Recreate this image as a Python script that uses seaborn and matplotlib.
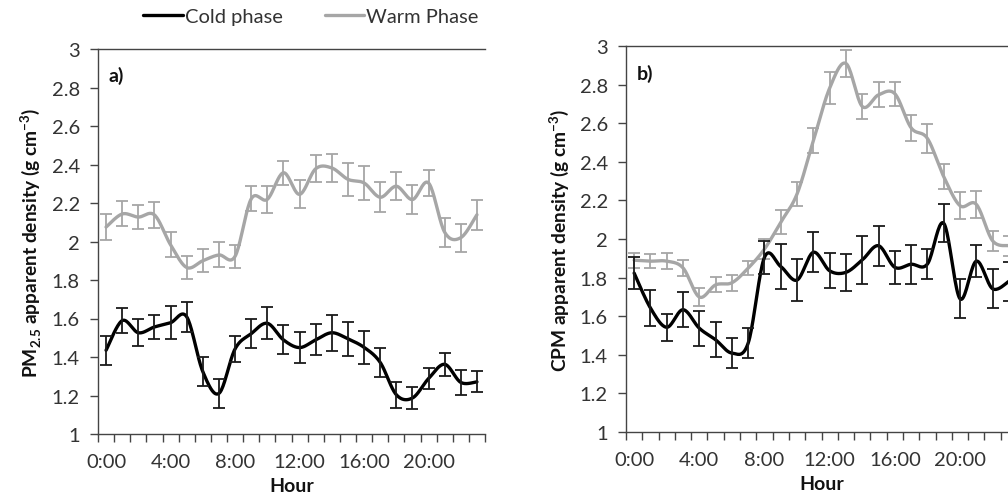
import numpy as np
import pandas as pd
import seaborn as sns
import matplotlib.pyplot as plt
from matplotlib.lines import Line2D

# Hourly values (hour 0..23)
hours = list(range(24))
hour_labels = ['0:00', '4:00', '8:00', '12:00', '16:00', '20:00']

# panel a) PM2.5 apparent density
pm_cold = [1.435, 1.589, 1.526, 1.556, 1.578, 1.609, 1.324, 1.211, 1.442, 1.521, 1.575, 1.489,
           1.449, 1.489, 1.526, 1.494, 1.450, 1.372, 1.204, 1.187, 1.288, 1.362, 1.268, 1.271]
pm_cold_err = [0.076, 0.064, 0.071, 0.062, 0.085, 0.078, 0.075, 0.075, 0.069, 0.076, 0.084, 0.075,
               0.081, 0.081, 0.093, 0.087, 0.087, 0.077, 0.068, 0.056, 0.055, 0.059, 0.064, 0.055]
pm_warm = [2.075, 2.143, 2.127, 2.138, 1.983, 1.865, 1.900, 1.930, 1.923, 2.221, 2.219, 2.357,
           2.245, 2.378, 2.382, 2.323, 2.304, 2.230, 2.287, 2.218, 2.304, 2.048, 2.020, 2.139]
pm_warm_err = [0.068, 0.065, 0.061, 0.069, 0.065, 0.061, 0.061, 0.065, 0.061, 0.065, 0.071, 0.061,
               0.072, 0.071, 0.074, 0.085, 0.088, 0.078, 0.074, 0.074, 0.069, 0.074, 0.072, 0.077]

# panel b) CPM apparent density
cpm_cold = [1.823, 1.642, 1.542, 1.633, 1.537, 1.477, 1.408, 1.460, 1.905, 1.857, 1.787, 1.931,
            1.835, 1.827, 1.891, 1.965, 1.853, 1.869, 1.870, 2.082, 1.690, 1.885, 1.742, 1.780]
cpm_cold_err = [0.082, 0.091, 0.069, 0.091, 0.091, 0.091, 0.078, 0.080, 0.086, 0.117, 0.108, 0.104,
                0.091, 0.095, 0.125, 0.104, 0.086, 0.102, 0.078, 0.099, 0.102, 0.082, 0.102, 0.100]
cpm_warm = [1.890, 1.885, 1.885, 1.850, 1.699, 1.762, 1.773, 1.849, 1.948, 2.087, 2.234, 2.510,
            2.783, 2.911, 2.688, 2.748, 2.754, 2.577, 2.522, 2.324, 2.173, 2.180, 1.991, 1.965]
cpm_warm_err = [0.039, 0.035, 0.043, 0.041, 0.045, 0.039, 0.042, 0.035, 0.052, 0.061, 0.061, 0.064,
                0.082, 0.072, 0.065, 0.065, 0.062, 0.067, 0.075, 0.065, 0.069, 0.069, 0.052, 0.052]

COLD = '#000000'
WARM = '#a6a6a6'
TXT = '#333333'


def smooth(x, y, n=20):
    # Catmull-Rom path through the points (like Excel "smoothed line")
    x = np.asarray(x, float)
    y = np.asarray(y, float)
    px = np.concatenate([[x[0]], x, [x[-1]]])
    py = np.concatenate([[y[0]], y, [y[-1]]])
    xs, ys = [], []
    t = np.linspace(0, 1, n, endpoint=False)
    for i in range(1, len(px) - 2):
        for a, b in ((xs, px[i - 1:i + 3]), (ys, py[i - 1:i + 3])):
            b0, b1, b2, b3 = b
            a.extend(0.5 * (2 * b1 + (-b0 + b2) * t + (2 * b0 - 5 * b1 + 4 * b2 - b3) * t ** 2
                            + (-b0 + 3 * b1 - 3 * b2 + b3) * t ** 3))
    xs.append(x[-1])
    ys.append(y[-1])
    return np.array(xs), np.array(ys)


sns.set_theme(style='ticks')
plt.rcParams['font.family'] = ['Lato', 'DejaVu Sans']
plt.rcParams['mathtext.fontset'] = 'custom'
plt.rcParams['mathtext.rm'] = 'Lato'
plt.rcParams['mathtext.bf'] = 'Lato:bold'

fig = plt.figure(figsize=(10.08, 5.02), dpi=100)
ax1 = fig.add_axes([98 / 1008, 67 / 502, 387 / 1008, 385 / 502])
ax2 = fig.add_axes([626 / 1008, 69.3 / 502, 391 / 1008, 385.4 / 502])

panels = [
    (ax1, pm_cold, pm_cold_err, pm_warm, pm_warm_err, 'a)',
     r'PM$_{\mathbf{2.5}}$ apparent density (g cm$^{\mathbf{-3}}$)'),
    (ax2, cpm_cold, cpm_cold_err, cpm_warm, cpm_warm_err, 'b)',
     r'CPM apparent density (g cm$^{\mathbf{-3}}$)'),
]

for ax, cold, cold_err, warm, warm_err, tag, ylab in panels:
    for vals, errs, col, ecol in ((warm, warm_err, WARM, WARM), (cold, cold_err, COLD, '#1a1a1a')):
        sx, sy = smooth(hours, vals)
        sns.lineplot(x=sx, y=sy, ax=ax, color=col, lw=2.4, sort=False, estimator=None)
        ax.errorbar(hours, vals, yerr=errs, fmt='none', ecolor=ecol, elinewidth=1.3,
                    capsize=4, capthick=1.3)
    ax.set_xlim(-0.5, 23.5)
    ax.set_ylim(1, 3)
    ax.set_yticks(np.arange(1, 3.01, 0.2))
    ax.set_yticklabels(['1', '1.2', '1.4', '1.6', '1.8', '2', '2.2', '2.4', '2.6', '2.8', '3'])
    ax.set_xticks(np.arange(-0.5, 23.6, 1))
    ax.set_xticklabels([])
    ax.set_xticks(hours[::4], minor=True)
    ax.set_xticklabels(hour_labels, minor=True)
    ax.tick_params(axis='x', which='minor', length=0, pad=14, labelsize=14.5, colors=TXT)
    ax.tick_params(axis='x', which='major', length=6, width=1, color='#444444')
    ax.tick_params(axis='y', length=6, width=1, color='#444444', labelsize=14.5, pad=7,
                   labelcolor=TXT)
    for s in ('left', 'bottom', 'top'):
        ax.spines[s].set_color('#444444')
        ax.spines[s].set_linewidth(1)
    ax.spines['right'].set_visible(False)
    ax.set_xlabel('Hour', fontsize=14, fontweight='bold', color='#111111')
    ax.xaxis.set_label_coords(0.5, -0.112)
    ax.set_ylabel(ylab, fontsize=13.8, fontweight='bold', labelpad=6, color='#111111')
    ax.text(0.027, 0.955, tag, transform=ax.transAxes, fontsize=14, fontweight='bold',
            va='top', ha='left', color='#111111')

handles = [Line2D([0], [0], color=COLD, lw=2.4), Line2D([0], [0], color=WARM, lw=2.4)]
leg = fig.legend(handles, ['Cold phase', 'Warm Phase'], loc='center', ncol=2, frameon=False,
                 bbox_to_anchor=(311 / 1008, 1 - 17 / 502), fontsize=14.5, handlelength=1.95,
                 handletextpad=0.1, columnspacing=2.1)
for t in leg.get_texts():
    t.set_color(TXT)

fig.savefig('out.png', dpi=100)
